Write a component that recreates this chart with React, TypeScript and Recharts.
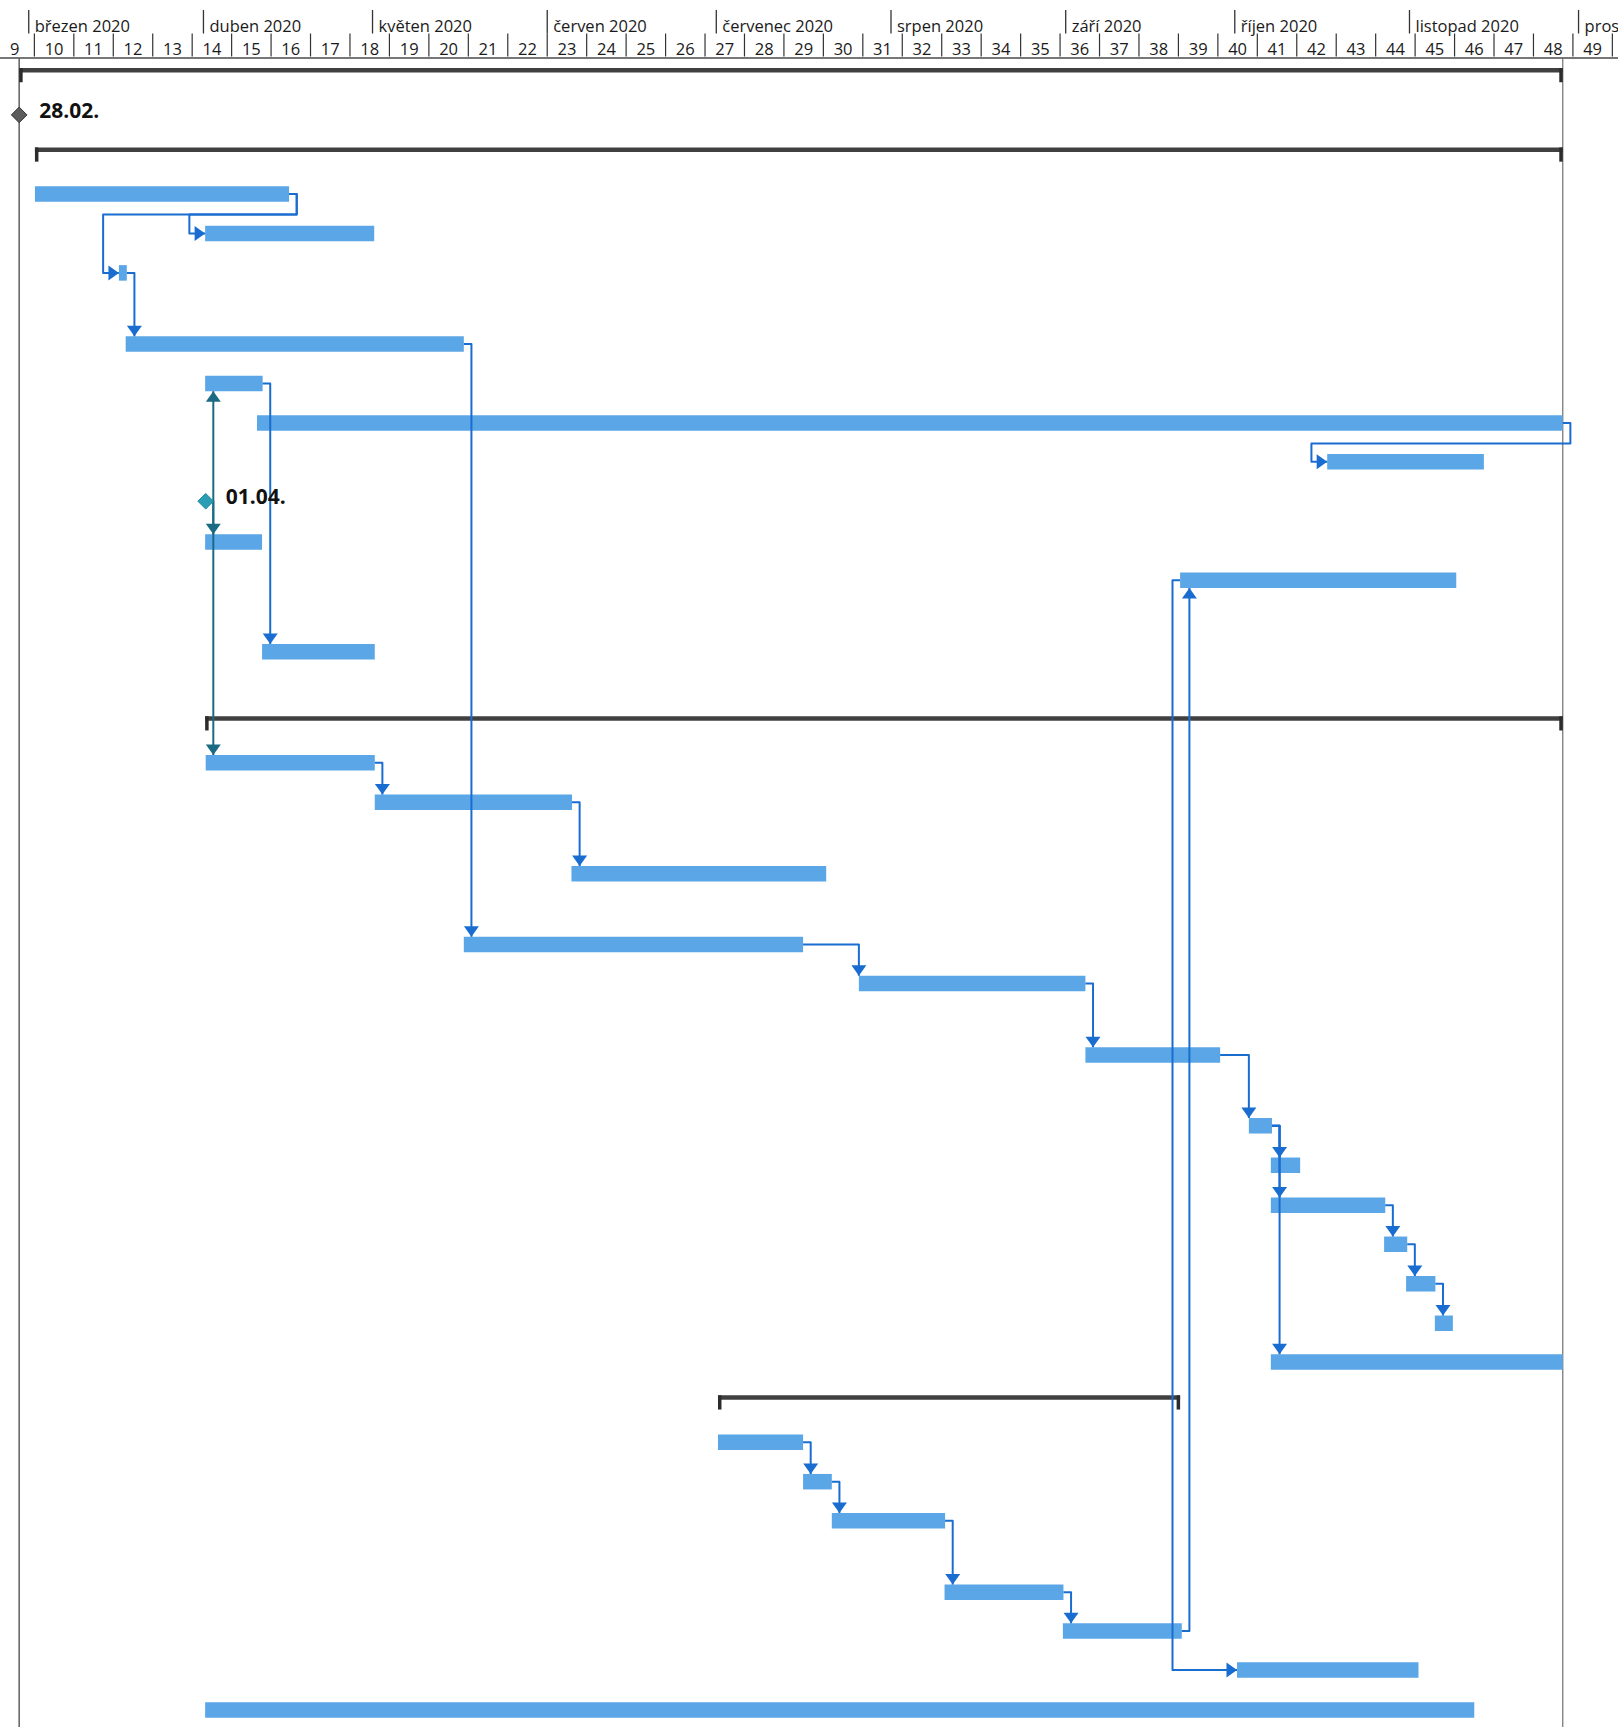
import React from 'react';
import { ComposedChart, Line, Scatter, XAxis, YAxis, ReferenceLine } from 'recharts';

// ---------- timeline (days counted from 28.02.2020) ----------
const X_DOMAIN: [number, number] = [-3.1, 284];
const Y_DOMAIN: [number, number] = [0, 42.25];

const monthStarts = [2, 33, 63, 94, 124, 155, 186, 216, 247, 277];
const monthLabels = [
  'březen 2020', 'duben 2020', 'květen 2020', 'červen 2020', 'červenec 2020',
  'srpen 2020', 'září 2020', 'říjen 2020', 'listopad 2020', 'prosinec 2020',
];
const weekNumbers = [
  9, 10, 11, 12, 13, 14, 15, 16, 17, 18, 19, 20, 21, 22, 23, 24, 25, 26, 27, 28,
  29, 30, 31, 32, 33, 34, 35, 36, 37, 38, 39, 40, 41, 42, 43, 44, 45, 46, 47, 48, 49,
];
const FIRST_WEEK_START = -4; // Monday 24.02.2020
const WEEK_DAYS = 7;

const projectStart = 0.3;
const projectEnd = 274.2;

// ---------- rows ----------
type Kind = 'summary' | 'milestone' | 'task';
const rowKind: Kind[] = [
  'summary', 'milestone', 'summary', 'task', 'task', 'task', 'task', 'task', 'task', 'task',
  'milestone', 'task', 'task', 'task', 'summary', 'task', 'task', 'task', 'task', 'task',
  'task', 'task', 'task', 'task', 'task', 'task', 'task', 'task', 'summary', 'task',
  'task', 'task', 'task', 'task', 'task', 'task',
];
const rowPos = [
  0.43, 1.44, 2.44, 3.44, 4.44, 5.44, 7.24, 8.24, 9.24, 10.22,
  11.22, 12.25, 13.22, 15.03, 16.84, 17.84, 18.84, 20.65, 22.44, 23.43,
  25.24, 27.03, 28.03, 29.04, 30.03, 31.03, 32.03, 33.01, 34.03, 35.04,
  36.04, 37.03, 38.84, 39.82, 40.81, 41.82,
];
const rowStart = [
  0.3, 0.3, 3.1, 3.1, 33.3, 18.0, 19.2, 33.3, 42.5, 232.4,
  33.4, 33.3, 206.3, 43.4, 33.3, 33.4, 63.4, 98.3, 79.2, 149.3,
  189.5, 218.5, 222.4, 222.4, 242.5, 246.4, 251.5, 222.4, 124.3, 124.3,
  139.4, 144.5, 164.5, 185.5, 216.4, 33.3,
];
const rowEnd = [
  274.2, 0.3, 274.2, 48.2, 63.3, 19.4, 79.2, 43.5, 274.2, 260.2,
  33.4, 43.4, 255.3, 63.4, 274.2, 63.4, 98.4, 143.5, 139.4, 189.5,
  213.4, 222.6, 227.6, 242.7, 246.6, 251.6, 254.7, 274.2, 206.3, 139.4,
  144.5, 164.6, 185.6, 206.6, 248.6, 258.5,
];
const milestoneLabels = ['28.02.', '01.04.'];

// links: [predecessor row, successor row, type]
const linkFrom = [3, 3, 5, 6, 7, 8, 10, 10, 10, 15, 16, 18, 19, 20, 21, 21, 21, 23, 24, 25, 29, 30, 31, 32, 33, 12];
const linkTo = [4, 5, 6, 18, 13, 9, 7, 11, 15, 16, 17, 19, 20, 21, 22, 23, 27, 24, 25, 26, 30, 31, 32, 33, 12, 34];
const linkType = [
  'FS', 'FS', 'FS', 'FS', 'FS', 'FS', 'FS', 'FS', 'FS', 'FS', 'FS', 'FS', 'FS',
  'FS', 'FS', 'FS', 'FS', 'FS', 'FS', 'FS', 'FS', 'FS', 'FS', 'FS', 'FS', 'SS',
];

// ---------- styles ----------
const W = 1618;
const H = 1727;
const FONT = "'Open Sans', 'DejaVu Sans', sans-serif";
const BAR = '#5ba6e6';
const SUMMARY = '#404040';
const LINK = '#1a6dd0';
const MS_LINK = '#1b6a84';
const MS_FILLS = ['#5c5c5c', '#2a9cb3'];
const BAR_W = 15.5;
const HALF = 0.196; // half bar height in row units
const STUB = 1.35; // link stub in days
const BACK = 2.8; // wrap-back in days
const DROP = 0.52; // wrap drop in row units
const SUM_OFF = -0.12;

type Pt = { x: number; y: number; arrow?: 'down' | 'up' | 'right' };

function linkPoints(a: number, b: number, type: string): Pt[] {
  const aS = rowStart[a];
  const aE = rowEnd[a];
  const aY = rowPos[a];
  const bS = rowStart[b];
  const bY = rowPos[b];
  if (type === 'SS') {
    const xl = aS - STUB;
    return [
      { x: aS, y: aY }, { x: xl, y: aY }, { x: xl, y: bY }, { x: bS, y: bY, arrow: 'right' },
    ];
  }
  if (bS >= aE - 0.5) {
    const xv = Math.max(aE + STUB, bS);
    const down = bY > aY;
    return [
      { x: aE, y: aY },
      { x: xv, y: aY },
      { x: xv, y: down ? bY - HALF : bY + HALF, arrow: down ? 'down' : 'up' },
    ];
  }
  const xr = aE + STUB;
  const ym = aY + DROP;
  const xl = bS - BACK;
  return [
    { x: aE, y: aY }, { x: xr, y: aY }, { x: xr, y: ym }, { x: xl, y: ym },
    { x: xl, y: bY }, { x: bS, y: bY, arrow: 'right' },
  ];
}

const makeArrowDot = (color: string) => (p: any) => {
  const a = p.payload && p.payload.arrow;
  const k = `d${p.index}`;
  if (!a || p.cx == null || p.cy == null) return <g key={k} />;
  const { cx, cy } = p;
  const hw = 7.5;
  const ln = 10.5;
  let pts = '';
  if (a === 'down') pts = `${cx - hw},${cy - ln} ${cx + hw},${cy - ln} ${cx},${cy}`;
  else if (a === 'up') pts = `${cx - hw},${cy + ln} ${cx + hw},${cy + ln} ${cx},${cy}`;
  else pts = `${cx - ln},${cy - hw} ${cx - ln},${cy + hw} ${cx},${cy}`;
  return <polygon key={k} points={pts} fill={color} />;
};

const SummaryCap = (p: any) => {
  const k = `c${p.index}`;
  if (p.cx == null) return <g key={k} />;
  const left = p.index === 0;
  return (
    <rect key={k} x={left ? p.cx : p.cx - 3.5} y={p.cy - 2.2} width={3.5} height={14.2} fill="#2c2c2c" />
  );
};

const MilestoneShape = (p: any) => {
  const { cx, cy, payload } = p;
  if (cx == null || cy == null) return <g />;
  const r = 7.8;
  const fill = MS_FILLS[payload.order % MS_FILLS.length];
  return (
    <g>
      <path
        d={`M${cx},${cy - r} L${cx + r},${cy} L${cx},${cy + r} L${cx - r},${cy} Z`}
        fill={fill}
        stroke={payload.order === 0 ? '#333' : '#1f8aa0'}
        strokeWidth={1}
      />
      <text x={cx + 20} y={cy + 3} fontFamily={FONT} fontWeight={700} fontSize={21} fill="#111">
        {payload.label}
      </text>
    </g>
  );
};

const weekCenterLabel = new Map<number, number>();
weekNumbers.forEach((w, i) => weekCenterLabel.set(FIRST_WEEK_START + i * WEEK_DAYS + WEEK_DAYS / 2, w));
const weekBoundaries = weekNumbers
  .map((_, i) => FIRST_WEEK_START + (i + 1) * WEEK_DAYS)
  .filter((d) => d > X_DOMAIN[0] && d < X_DOMAIN[1]);
const weekTicks = [...weekBoundaries, ...Array.from(weekCenterLabel.keys())].sort((a, b) => a - b);

const WeekTick = (p: any) => {
  const v = p.payload.value;
  const lbl = weekCenterLabel.get(v);
  if (lbl !== undefined) {
    return (
      <text x={p.x} y={55} textAnchor="middle" fontFamily={FONT} fontSize={16.5} fill="#1a1a1a">
        {lbl}
      </text>
    );
  }
  return <line x1={p.x} x2={p.x} y1={33.5} y2={56.5} stroke="#333" strokeWidth={1.2} />;
};

const MonthTick = (p: any) => {
  const i = monthStarts.indexOf(p.payload.value);
  return (
    <g>
      <line x1={p.x} x2={p.x} y1={10} y2={33.5} stroke="#333" strokeWidth={1.3} />
      <text x={p.x + 6} y={32} fontFamily={FONT} fontSize={16.5} fill="#1a1a1a">
        {monthLabels[i]}
      </text>
    </g>
  );
};

export default function App() {
  const idx = rowKind.map((_, i) => i);
  const summaryRows = idx.filter((i) => rowKind[i] === 'summary');
  const taskRows = idx.filter((i) => rowKind[i] === 'task');
  const msRows = idx.filter((i) => rowKind[i] === 'milestone');
  const msData = msRows.map((r, k) => ({ x: rowStart[r], y: rowPos[r], label: milestoneLabels[k], order: k }));

  return (
    <div style={{ position: 'absolute', left: 0, top: 0, width: W, height: H, overflow: 'hidden', background: '#fff' }}>
      <ComposedChart width={W} height={H} margin={{ top: 0, right: 0, bottom: 0, left: 0 }}>
        <XAxis
          xAxisId="w"
          type="number"
          dataKey="x"
          domain={X_DOMAIN}
          allowDataOverflow
          orientation="top"
          height={25}
          ticks={weekTicks}
          interval={0}
          tick={WeekTick}
          tickLine={false}
          axisLine={false}
        />
        <XAxis
          xAxisId="m"
          type="number"
          dataKey="x"
          domain={X_DOMAIN}
          allowDataOverflow
          orientation="top"
          height={33}
          ticks={monthStarts}
          interval={0}
          tick={MonthTick}
          tickLine={false}
          axisLine={false}
        />
        <YAxis type="number" dataKey="y" domain={Y_DOMAIN} reversed hide allowDataOverflow />

        <ReferenceLine xAxisId="w" y={Y_DOMAIN[0]} stroke="#4a4a4a" strokeWidth={1.6} />
        <ReferenceLine xAxisId="w" x={projectStart} stroke="#5f5f5f" strokeWidth={1.5} />
        <ReferenceLine xAxisId="w" x={projectEnd} stroke="#6f6f6f" strokeWidth={1.2} />

        {summaryRows.map((i) => (
          <Line
            key={`s${i}`}
            xAxisId="w"
            data={[
              { x: rowStart[i], y: rowPos[i] + SUM_OFF },
              { x: rowEnd[i], y: rowPos[i] + SUM_OFF },
            ]}
            dataKey="y"
            stroke={SUMMARY}
            strokeWidth={4.5}
            dot={SummaryCap}
            activeDot={false}
            isAnimationActive={false}
          />
        ))}

        {taskRows.map((i) => (
          <Line
            key={`t${i}`}
            xAxisId="w"
            data={[
              { x: rowStart[i], y: rowPos[i] },
              { x: rowEnd[i], y: rowPos[i] },
            ]}
            dataKey="y"
            stroke={BAR}
            strokeWidth={BAR_W}
            strokeLinecap="butt"
            dot={false}
            activeDot={false}
            isAnimationActive={false}
          />
        ))}

        {linkFrom.map((a, k) => {
          const color = rowKind[a] === 'milestone' ? MS_LINK : LINK;
          return (
            <Line
              key={`l${k}`}
              xAxisId="w"
              data={linkPoints(a, linkTo[k], linkType[k])}
              dataKey="y"
              stroke={color}
              strokeWidth={2}
              strokeLinejoin="round"
              dot={makeArrowDot(color)}
              activeDot={false}
              isAnimationActive={false}
            />
          );
        })}

        <Scatter xAxisId="w" data={msData} dataKey="y" shape={MilestoneShape} isAnimationActive={false} />
      </ComposedChart>
    </div>
  );
}
